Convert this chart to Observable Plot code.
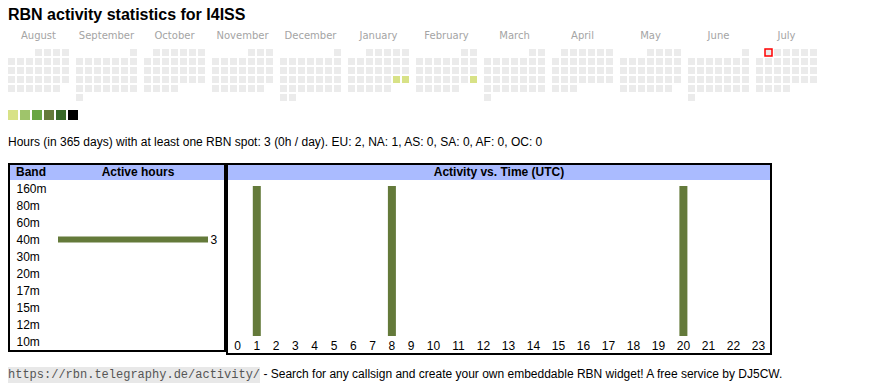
<!DOCTYPE html>
<html>
<head>
<meta charset="utf-8">
<script src="https://cdn.jsdelivr.net/npm/d3@7"></script>
<script src="https://cdn.jsdelivr.net/npm/@observablehq/plot@0.6"></script>
<style>
  html, body { margin: 0; padding: 0; background: #fff; }
  body { font-family: "Liberation Sans", Arial, sans-serif; color: #000; }
  #page { position: relative; width: 870px; height: 390px; overflow: hidden; }
  .abs { position: absolute; }
  #title { left: 8px; top: 6px; font-size: 16px; font-weight: bold; line-height: 18px; white-space: nowrap; }
  .mlabel { position: absolute; top: 29px; width: 61px; text-align: center; font-family: "DejaVu Sans", Verdana, sans-serif; font-size: 10px; line-height: 14px; color: #a4a4a4; }
  .mplot { position: absolute; top: 49px; }
  #info { left: 8px; top: 135px; font-size: 12px; line-height: 15px; white-space: nowrap; }
  .box { position: absolute; box-sizing: border-box; border: 2px solid #000; background: #fff; }
  .head { position: relative; height: 15px; background: #aabbff; font-weight: bold; font-size: 12px; line-height: 15px; }
  #footer { left: 8px; top: 366px; font-size: 12px; line-height: 16px; white-space: nowrap; }
  #footer code { font-family: "Liberation Mono", "Courier New", monospace; font-size: 12px; background: #e8e8e8; color: #555; padding: 1px 0; }
</style>
</head>
<body>
<div id="page">
  <div id="title" class="abs">RBN activity statistics for I4ISS</div>
  <div id="cal"></div>
  <div id="legend" class="abs" style="left:8px; top:110px;"></div>
  <div id="info" class="abs">Hours (in 365 days) with at least one RBN spot: 3 (0h / day). EU: 2, NA: 1, AS: 0, SA: 0, AF: 0, OC: 0</div>
  <div id="box1" class="box" style="left:8px; top:163px; width:218px; height:189px;">
    <div class="head"><span style="position:absolute; left:6px;">Band</span><span style="position:absolute; left:42px; right:0; text-align:center;">Active hours</span></div>
    <div id="bandplot"></div>
  </div>
  <div id="box2" class="box" style="left:226px; top:163px; width:546px; height:192px;">
    <div class="head" style="text-align:center;">Activity vs. Time (UTC)</div>
    <div id="hourplot"></div>
  </div>
  <div id="footer" class="abs"><code>https://rbn.telegraphy.de/activity/</code> - Search for any callsign and create your own embeddable RBN widget! A free service by DJ5CW.</div>
</div>
<script>
// ---- data ----
const months = ["August", "September", "October", "November", "December", "January", "February", "March", "April", "May", "June", "July"];
const monthStarts = ["2024-08-01", "2024-09-01", "2024-10-01", "2024-11-01", "2024-12-01", "2025-01-01", "2025-02-01", "2025-03-01", "2025-04-01", "2025-05-01", "2025-06-01", "2025-07-01"];
const activeDays = ["2025-01-25", "2025-01-26", "2025-02-23"];
const activeLevels = [1, 1, 1];
const today = "2025-07-01";
const levels = [1, 2, 3, 4, 5, 6];
const levelColors = ["#d8e287", "#9fc46b", "#69a544", "#647a3a", "#386828", "#000000"];
const emptyColor = "#ebebeb";

const bands = ["160m", "80m", "60m", "40m", "30m", "20m", "17m", "15m", "12m", "10m"];
const bandHours = [0, 0, 0, 3, 0, 0, 0, 0, 0, 0];

const hours = [0, 1, 2, 3, 4, 5, 6, 7, 8, 9, 10, 11, 12, 13, 14, 15, 16, 17, 18, 19, 20, 21, 22, 23];
const hourActivity = [0, 1, 0, 0, 0, 0, 0, 0, 1, 0, 0, 0, 0, 0, 0, 0, 0, 0, 0, 0, 1, 0, 0, 0];

const barColor = "#647a3a";
const fontFamily = '"Liberation Sans", Arial, sans-serif';

// ---- calendar ----
const levelByDay = new Map(activeDays.map((d, i) => [d, activeLevels[i]]));
const fmt = d3.utcFormat("%Y-%m-%d");
const cal = document.getElementById("cal");
months.forEach((name, i) => {
  const start = new Date(monthStarts[i] + "T00:00:00Z");
  const end = d3.utcMonth.offset(start, 1);
  const firstWd = (start.getUTCDay() + 6) % 7;
  const cells = d3.utcDays(start, end).map((d) => {
    const k = d.getUTCDate() - 1 + firstWd;
    const key = fmt(d);
    return {key, wd: k % 7, row: Math.floor(k / 7), level: levelByDay.get(key) || 0};
  });
  const lab = document.createElement("div");
  lab.className = "mlabel";
  lab.style.left = (8 + i * 68) + "px";
  lab.textContent = name;
  cal.appendChild(lab);
  const p = Plot.plot({
    width: 61, height: 52,
    margin: 0,
    style: {background: "transparent", overflow: "visible"},
    x: {type: "band", domain: [0, 1, 2, 3, 4, 5, 6], paddingInner: 2 / 9, paddingOuter: 0, round: false, axis: null},
    y: {type: "band", domain: [0, 1, 2, 3, 4, 5], paddingInner: 2 / 9, paddingOuter: 0, round: false, axis: null},
    color: {type: "ordinal", domain: [0, ...levels], range: [emptyColor, ...levelColors]},
    marks: [
      Plot.cell(cells, {x: "wd", y: "row", fill: "level", inset: 0}),
      Plot.cell(cells.filter((c) => c.key === today), {x: "wd", y: "row", fill: emptyColor, stroke: "#ff0000", strokeWidth: 1.5, inset: 0})
    ]
  });
  p.classList.add("mplot");
  p.style.left = (8 + i * 68) + "px";
  cal.appendChild(p);
});

// ---- legend swatches ----
document.getElementById("legend").appendChild(Plot.plot({
  width: 70, height: 10, margin: 0,
  style: {background: "transparent"},
  x: {type: "band", domain: levels, paddingInner: 2 / 12, paddingOuter: 0, axis: null},
  color: {type: "ordinal", domain: levels, range: levelColors},
  marks: [Plot.cell(levels, {x: (d) => d, fill: (d) => d, inset: 0})]
}));

// ---- band chart ----
const bandData = bands.map((b, i) => ({band: b, hours: bandHours[i]}));
document.getElementById("bandplot").appendChild(Plot.plot({
  width: 214, height: 170,
  marginTop: 0, marginBottom: 0, marginLeft: 0, marginRight: 0,
  style: {background: "transparent", fontFamily, fontSize: "12px", overflow: "visible"},
  x: {type: "linear", domain: [0, d3.max(bandHours)], range: [48, 198], axis: null},
  y: {type: "band", domain: bands, padding: 0, axis: null},
  marks: [
    Plot.barX(bandData.filter((d) => d.hours > 0), {x: "hours", y: "band", fill: barColor, insetTop: 5.5, insetBottom: 5.5}),
    Plot.text(bandData, {y: "band", text: "band", frameAnchor: "left", textAnchor: "start", dx: 6, fill: "#000", fontSize: 12}),
    Plot.text(bandData.filter((d) => d.hours > 0), {x: "hours", y: "band", text: (d) => String(d.hours), textAnchor: "start", dx: 2, fill: "#000", fontSize: 12})
  ]
}));

// ---- hour chart ----
const hourData = hours.map((h, i) => ({hour: h, n: hourActivity[i]}));
document.getElementById("hourplot").appendChild(Plot.plot({
  width: 542, height: 172,
  marginTop: 6, marginBottom: 16, marginLeft: 0, marginRight: 0,
  style: {background: "transparent", fontFamily, fontSize: "12px", overflow: "visible"},
  x: {type: "linear", domain: [0, 9, 10, 23], range: [9, 182.7, 204.9, 529.9], axis: null},
  y: {type: "linear", domain: [0, d3.max(hourActivity)], axis: null},
  marks: [
    Plot.ruleX(hourData.filter((d) => d.n > 0), {x: "hour", y1: 0, y2: "n", stroke: barColor, strokeWidth: 8}),
    Plot.axisX({ticks: hours, tickSize: 0, tickPadding: 5, tickFormat: (d) => String(d), fontSize: 12, fill: "#000", label: null})
  ]
}));
</script>
</body>
</html>
